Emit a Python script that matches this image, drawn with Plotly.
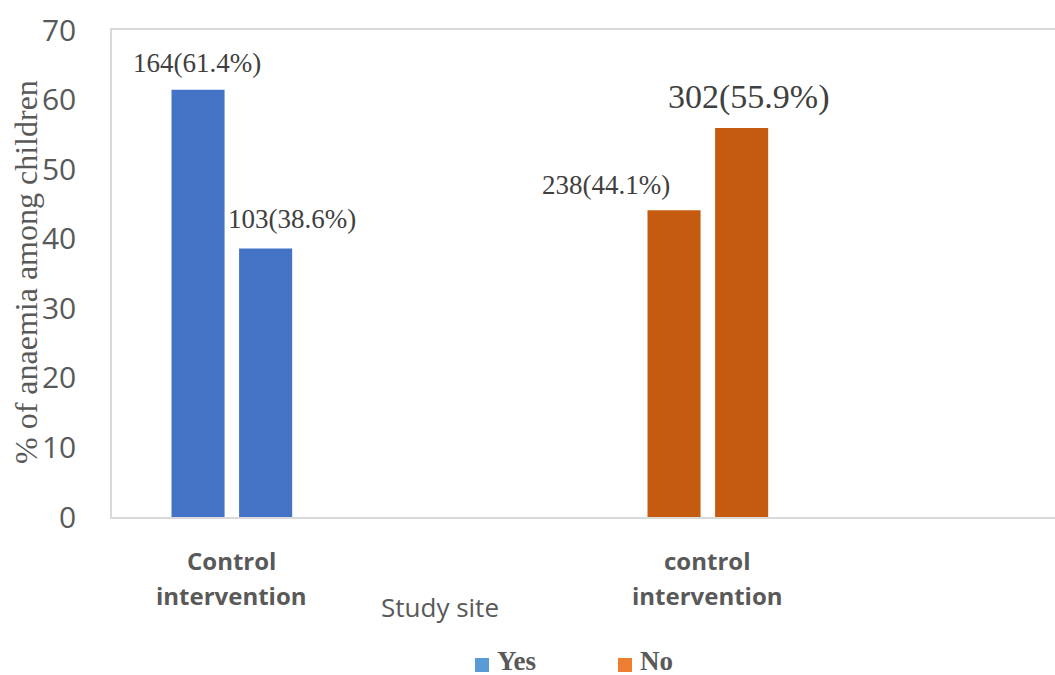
import plotly.graph_objects as go

# Study sites (category centres at 0.5 and 2.5 on a numeric axis of 4 slots)
site_line1 = ["Control", "control"]
site_line2 = ["intervention", "intervention"]
site_pos = [0.5, 2.5]

# Anaemia status: "Yes" bars in the first site, "No" bars in the second
group_names = ["Yes", "No"]
first_pct = [61.4, 44.1]
second_pct = [38.6, 55.9]
first_n = [164, 238]
second_n = [103, 302]

bar_colors = ["#4472C4", "#C55A11"]
legend_colors = ["#5B9BD5", "#ED7D31"]

W, H = 1055, 675
ML, MT, MB = 112, 30, 158
PW, PH = W - ML, H - MT - MB

SERIF = "Liberation Serif, Times New Roman, serif"
SANS = "Open Sans, sans-serif"


def px_x(px):
    return (px - ML) / PW


def px_y(py):
    return (H - MB - py) / PH


BAR_W = 0.223
OFF1 = -0.25
OFF2 = 0.034

fig = go.Figure()

fig.add_trace(go.Bar(
    x=site_pos, y=first_pct, width=BAR_W, offset=OFF1,
    marker=dict(color=bar_colors, line=dict(width=0)),
    showlegend=False, hoverinfo="skip",
))
fig.add_trace(go.Bar(
    x=site_pos, y=second_pct, width=BAR_W, offset=OFF2,
    marker=dict(color=bar_colors, line=dict(width=0)),
    showlegend=False, hoverinfo="skip",
))

# Value labels: count(percent)
shifts = [(-1, 10), (26, 12), (-68, 8), (7, 10)]
sizes = [27, 27, 27, 34]
labels = []
for i in range(2):
    labels.append((site_pos[i] + OFF1 + BAR_W / 2, first_pct[i], first_n[i]))
    labels.append((site_pos[i] + OFF2 + BAR_W / 2, second_pct[i], second_n[i]))
for (xc, pct, n), (dx, dy), sz in zip(labels, shifts, sizes):
    fig.add_annotation(x=xc, y=pct, text=f"{n}({pct}%)", showarrow=False,
                       xanchor="center", yanchor="bottom", xshift=dx, yshift=dy,
                       font=dict(family=SERIF, size=sz, color="#404040"))

# Category labels under the axis (two lines each)
cat_font = dict(family=SANS, size=24, color="#595959", weight="bold")
for xp, l1, l2 in zip(site_pos, site_line1, site_line2):
    fig.add_annotation(x=xp, y=px_y(560), xref="x", yref="paper", text=l1,
                       showarrow=False, xanchor="center", yanchor="middle", font=cat_font)
    fig.add_annotation(x=xp, y=px_y(595), xref="x", yref="paper", text=l2,
                       showarrow=False, xanchor="center", yanchor="middle", font=cat_font)

# Axis titles
fig.add_annotation(
    x=px_x(440), y=px_y(607), xref="paper", yref="paper",
    text="Study site", showarrow=False, xanchor="center", yanchor="middle",
    font=dict(family=SANS, size=26, color="#595959"))
fig.add_annotation(
    x=px_x(26), y=px_y(272), xref="paper", yref="paper",
    text="% of anaemia among children", showarrow=False, textangle=-90,
    xanchor="center", yanchor="middle",
    font=dict(family=SERIF, size=32, color="#595959"))

# Legend: coloured squares with bold serif labels
legend_x = [475, 618]
for name, col, lx in zip(group_names, legend_colors, legend_x):
    fig.add_shape(type="rect", xref="paper", yref="paper",
                  x0=px_x(lx), x1=px_x(lx + 14), y0=px_y(672), y1=px_y(658),
                  fillcolor=col, line=dict(width=0))
    fig.add_annotation(x=px_x(lx + 20), y=px_y(661), xref="paper", yref="paper",
                       text=name, showarrow=False, xanchor="left", yanchor="middle",
                       font=dict(family=SERIF, size=27, color="#595959", weight="bold"))

fig.update_xaxes(
    range=[0, PW / 238], tickvals=site_pos, showticklabels=False,
    showgrid=False, zeroline=False, showline=True, linecolor="#D9D9D9",
    linewidth=1.5, mirror=True, ticks="",
)
fig.update_yaxes(
    range=[0, 70], dtick=10, showgrid=False, zeroline=False,
    showline=True, linecolor="#D9D9D9", linewidth=1.5, mirror=True, ticks="",
    ticklabelstandoff=28,
    tickfont=dict(family=SANS, size=30, color="#595959"),
)

fig.update_layout(
    width=W, height=H,
    margin=dict(l=ML, r=0, t=MT, b=MB, autoexpand=False),
    plot_bgcolor="white", paper_bgcolor="white",
    barmode="overlay", showlegend=False,
)

fig.write_html("out.html")
